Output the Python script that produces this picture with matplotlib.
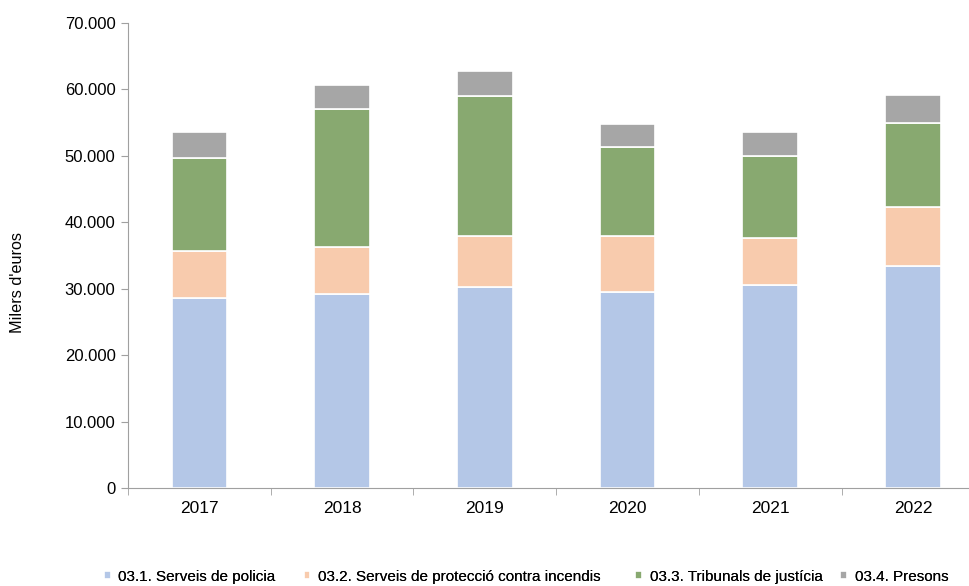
import numpy as np
import matplotlib
matplotlib.use('Agg')
import matplotlib.pyplot as plt
from matplotlib.ticker import FuncFormatter

plt.rcParams['font.family'] = ['Liberation Sans', 'DejaVu Sans']

# Data (milers d'euros)
years = ['2017', '2018', '2019', '2020', '2021', '2022']
policia = [28600, 29200, 30300, 29500, 30600, 33400]
incendis = [7100, 7100, 7700, 8500, 7100, 8900]
tribunals = [13900, 20700, 21000, 13300, 12200, 12700]
presons = [4000, 3700, 3800, 3500, 3700, 4100]

labels = ['03.1. Serveis de policia',
          '03.2. Serveis de protecció contra incendis',
          '03.3. Tribunals de justícia',
          '03.4. Presons']
colors = ['#B4C7E7', '#F8CBAD', '#88A970', '#A6A6A6']

fig = plt.figure(figsize=(9.7, 5.86), dpi=100)
ax = fig.add_axes([0.132, 0.167, 0.868, 0.794])

x = np.arange(len(years))
bottom = np.zeros(len(years))
handles = []
for vals, lab, col in zip([policia, incendis, tribunals, presons], labels, colors):
    b = ax.bar(x, vals, width=0.39, bottom=bottom, color=col, label=lab,
               edgecolor='white', linewidth=1.2)
    handles.append(b)
    bottom += np.array(vals)

ax.set_yticks(np.arange(0, 70001, 10000))
ax.yaxis.set_major_formatter(FuncFormatter(lambda v, p: f'{int(v):,}'.replace(',', '.')))
ax.set_xticks(x)
ax.set_xticklabels(years)
ax.set_xticks(np.arange(-0.5, 5.0, 1), minor=True)
ax.set_xlim(-0.5, 5.4)
ax.set_ylim(0, 70000)
ax.tick_params(axis='x', which='major', length=0, pad=9, labelsize=12.5)
ax.tick_params(axis='x', which='minor', length=5, color='#A0A0A0')
ax.tick_params(axis='y', length=5, color='#A0A0A0', labelsize=12, pad=4)

for s in ['top', 'right']:
    ax.spines[s].set_visible(False)
for s in ['left', 'bottom']:
    ax.spines[s].set_color('#A0A0A0')

ax.set_ylabel("Milers d'euros", fontsize=11.7)
ax.yaxis.set_label_coords(-0.122, 0.443)

# legend entries spread along the bottom like the original
leg_x = [0.107, 0.313, 0.655, 0.866]
for h, lab, lx in zip(handles, labels, leg_x):
    lg = fig.legend([h], [lab], loc='center left', bbox_to_anchor=(lx, 0.016),
                    frameon=False, fontsize=11, handlelength=0.45, handleheight=0.45,
                    handletextpad=0.5, borderaxespad=0, borderpad=0)
    fig.add_artist(lg)

fig.savefig('out.png', dpi=100)
